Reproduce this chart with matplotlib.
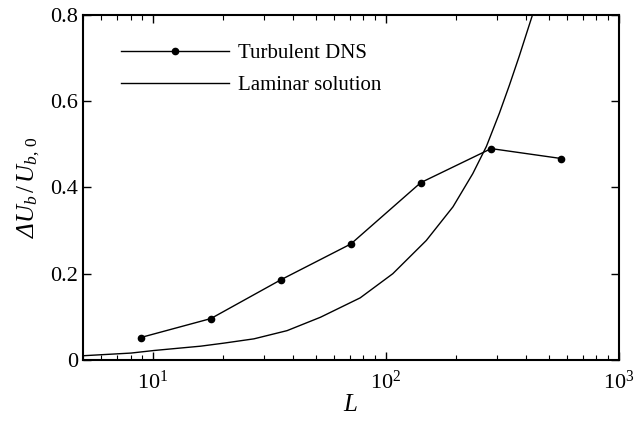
import matplotlib
matplotlib.use('Agg')
import matplotlib.pyplot as plt
from matplotlib.ticker import FixedLocator, LogLocator

plt.rcParams['font.family'] = ['Liberation Serif', 'DejaVu Serif']
plt.rcParams['mathtext.fontset'] = 'custom'
plt.rcParams['mathtext.rm'] = 'Liberation Serif'
plt.rcParams['mathtext.it'] = 'Liberation Serif:italic'

# turbulent DNS points
L_dns = [8.84, 17.7, 35.4, 70.7, 141, 283, 566]
du_dns = [0.052, 0.096, 0.186, 0.269, 0.411, 0.490, 0.467]

# laminar solution
L_lam = [5.07, 8.03, 10.1, 12.7, 16.0, 20.1, 27.1, 37.6, 52.3, 77.5,
         107, 149, 194, 236, 270, 307, 339, 374, 406, 426]
du_lam = [0.010, 0.016, 0.022, 0.027, 0.032, 0.039, 0.049, 0.068, 0.099, 0.144,
          0.200, 0.277, 0.355, 0.432, 0.495, 0.572, 0.637, 0.705, 0.765, 0.800]

y_ticks = [0, 0.2, 0.4, 0.6, 0.8]
y_ticklabels = ['0', '0.2', '0.4', '0.6', '0.8']

fig = plt.figure(figsize=(6.34, 4.25), dpi=100)
ax = fig.add_axes([0.131, 0.153, 0.845, 0.812])

ax.plot(L_dns, du_dns, 'k-', marker='o', ms=4.5, lw=1.0, label='Turbulent DNS')
ax.plot(L_lam, du_lam, 'k-', lw=1.0, label='Laminar solution')

ax.set_xscale('log')
ax.set_xlim(5, 1000)
ax.set_ylim(0, 0.8)
ax.yaxis.set_major_locator(FixedLocator(y_ticks))
ax.set_yticklabels(y_ticklabels)
ax.xaxis.set_minor_locator(LogLocator(base=10, subs=range(2, 10)))

ax.tick_params(which='both', direction='in', top=True, right=True, labelsize=16)
ax.tick_params(which='major', length=6, width=1)
ax.tick_params(which='minor', length=3.5, width=0.8)
ax.tick_params(axis='x', pad=8)
for s in ax.spines.values():
    s.set_linewidth(1.5)

ax.set_xlabel(r'$L$', fontsize=18, labelpad=0)
# plain-text Delta so it can be italic, the rest in mathtext
ax.set_ylabel(r'Δ$U_b\,/\,U_{b,\,0}$', fontsize=18, fontstyle='italic', labelpad=6)

ax.legend(loc='upper left', bbox_to_anchor=(0.055, 0.942), borderaxespad=0,
          frameon=False, fontsize=15, handlelength=5.2, handletextpad=0.4,
          numpoints=1, labelspacing=0.6)

fig.savefig('out.png', dpi=100)
